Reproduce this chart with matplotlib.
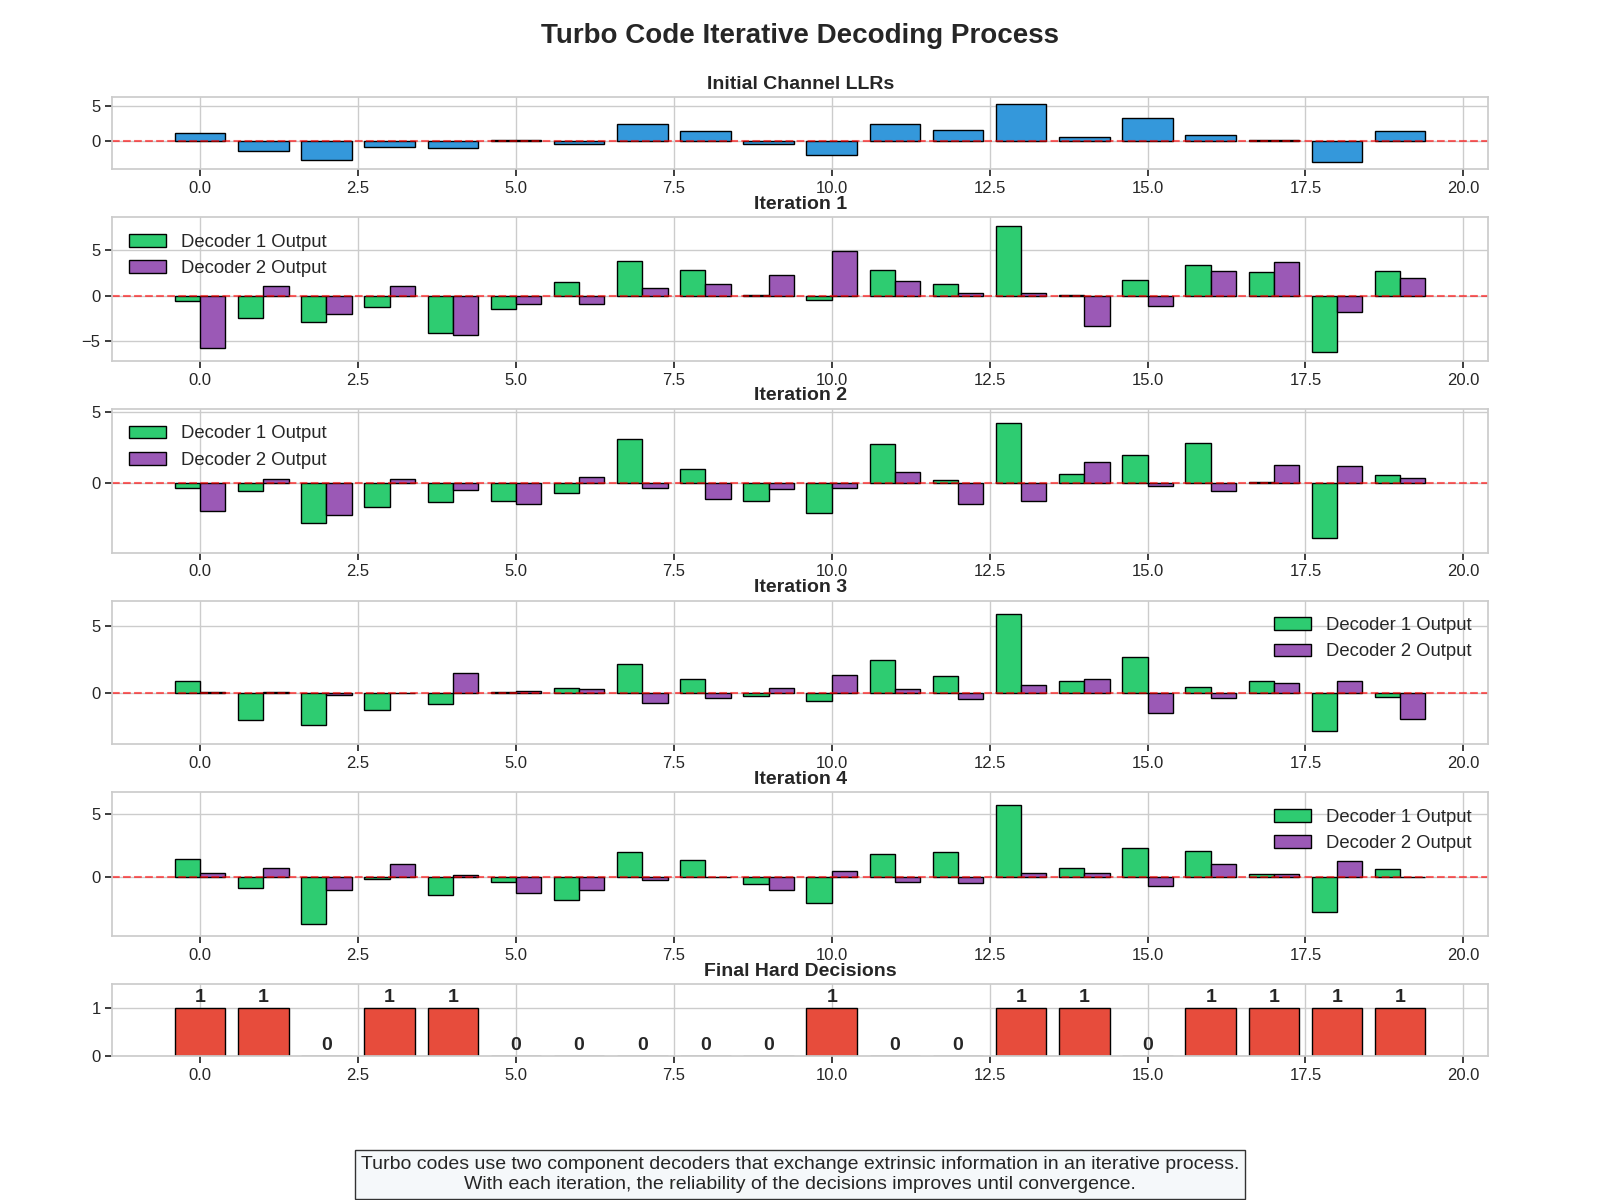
import numpy as np
import matplotlib
matplotlib.use('Agg')
import matplotlib.pyplot as plt

# data
positions = np.arange(20)
llr = [1.2, -1.5, -2.8, -0.8, -0.95, 0.15, -0.38, 2.48, 1.43, -0.38,
       -1.95, 2.43, 1.57, 5.29, 0.52, 3.24, 0.86, 0.15, -3.05, 1.43]

dec1_iter1 = [-0.58, -2.45, -2.88, -1.24, -4.09, -1.46, 1.53, 3.80, 2.81, 0.05,
              -0.45, 2.81, 1.28, 7.66, 0.05, 1.72, 3.36, 2.59, -6.17, 2.70]
dec2_iter1 = [-5.73, 1.06, -2.00, 1.06, -4.34, -0.91, -0.91, 0.84, 1.28, 2.26,
              4.89, 1.60, 0.29, 0.29, -3.32, -1.13, 2.70, 3.69, -1.79, 1.93]

dec1_iter2 = [-0.30, -0.53, -2.79, -1.61, -1.29, -1.20, -0.65, 3.09, 1.01, -1.20,
              -2.03, 2.74, 0.25, 4.19, 0.67, 1.98, 2.81, 0.07, -3.82, 0.60]
dec2_iter2 = [-1.91, 0.32, -2.17, 0.32, -0.44, -1.41, 0.46, -0.30, -1.06, -0.37,
              -0.30, 0.81, -1.41, -1.20, 1.50, -0.16, -0.51, 1.29, 1.22, 0.39]

dec1_iter3 = [0.95, -2.00, -2.38, -1.23, -0.78, 0.08, 0.43, 2.15, 1.10, -0.18,
              -0.55, 2.45, 1.28, 5.90, 0.95, 2.70, 0.50, 0.88, -2.80, -0.25]
dec2_iter3 = [0.12, 0.12, -0.10, 0.02, 1.48, 0.20, 0.33, -0.70, -0.33, 0.43,
              1.35, 0.35, -0.40, 0.65, 1.10, -1.45, -0.33, 0.80, 0.88, -1.90]

dec1_iter4 = [1.41, -0.90, -3.70, -0.19, -1.46, -0.43, -1.86, 1.97, 1.33, -0.59,
              -2.10, 1.81, 1.97, 5.72, 0.69, 2.29, 2.05, 0.21, -2.79, 0.61]
dec2_iter4 = [0.29, 0.69, -1.06, 1.01, 0.13, -1.30, -1.06, -0.27, -0.02, -1.06,
              0.45, -0.43, -0.51, 0.29, 0.29, -0.74, 1.01, 0.21, 1.25, -0.02]

decisions = [1, 1, 0, 1, 1, 0, 0, 0, 0, 0, 1, 0, 0, 1, 1, 0, 1, 1, 1, 1]

iterations = [(dec1_iter1, dec2_iter1), (dec1_iter2, dec2_iter2),
              (dec1_iter3, dec2_iter3), (dec1_iter4, dec2_iter4)]
legend_locs = ['upper left', 'upper left', 'upper right', 'upper right']

plt.rcParams['font.family'] = ['Liberation Sans', 'DejaVu Sans']
plt.rcParams['axes.edgecolor'] = '#cccccc'
plt.rcParams['axes.linewidth'] = 1.25
plt.rcParams['grid.color'] = '#cccccc'
plt.rcParams['grid.linewidth'] = 1.0
plt.rcParams['xtick.color'] = '#262626'
plt.rcParams['ytick.color'] = '#262626'
plt.rcParams['xtick.labelsize'] = 12
plt.rcParams['ytick.labelsize'] = 12
plt.rcParams['text.color'] = '#262626'

fig = plt.figure(figsize=(16, 12), dpi=100)
gs = fig.add_gridspec(6, 1, height_ratios=[1, 2, 2, 2, 2, 1],
                      left=0.0702, right=0.930, top=0.919, bottom=0.12, hspace=0.4)
axes = [fig.add_subplot(gs[i]) for i in range(6)]

def style_ax(ax):
    ax.grid(True)
    ax.set_axisbelow(True)
    ax.tick_params(length=5, width=1.25)

# initial LLRs
ax = axes[0]
ax.bar(positions, llr, width=0.8, color='#3498db', edgecolor='black', linewidth=1)
ax.axhline(0, color='red', linestyle='--', alpha=0.6, linewidth=1.5)
ax.set_ylim(min(llr) - 1, max(llr) + 1)
ax.set_title('Initial Channel LLRs', fontsize=14, fontweight='bold')
style_ax(ax)

# decoder iterations
for k, (d1, d2) in enumerate(iterations):
    ax = axes[k + 1]
    ax.bar(positions - 0.2, d1, width=0.4, color='#2ecc71', edgecolor='black',
           linewidth=1, label='Decoder 1 Output')
    ax.bar(positions + 0.2, d2, width=0.4, color='#9b59b6', edgecolor='black',
           linewidth=1, label='Decoder 2 Output')
    ax.axhline(0, color='red', linestyle='--', alpha=0.6, linewidth=1.5)
    lo = min(min(d1), min(d2))
    hi = max(max(d1), max(d2))
    ax.set_ylim(lo - 1, hi + 1)
    ax.set_title('Iteration %d' % (k + 1), fontsize=14, fontweight='bold')
    ax.legend(loc=legend_locs[k], fontsize=13.3, frameon=False)
    style_ax(ax)

# final decisions
ax = axes[5]
ax.bar(positions, decisions, width=0.8, color='#e74c3c', edgecolor='black', linewidth=1)
for i, v in enumerate(decisions):
    ax.text(i, v + 0.04, str(v), ha='center', va='bottom', fontsize=14, fontweight='bold')
ax.set_ylim(0, 1.5)
ax.set_yticks([0, 1])
ax.set_title('Final Hard Decisions', fontsize=14, fontweight='bold')
style_ax(ax)

fig.suptitle('Turbo Code Iterative Decoding Process', fontsize=20, fontweight='bold', y=0.981)

fig.text(0.5, 0.006,
         'Turbo codes use two component decoders that exchange extrinsic information in an iterative process.\n'
         'With each iteration, the reliability of the decisions improves until convergence.',
         ha='center', va='bottom', fontsize=14,
         bbox=dict(boxstyle='square,pad=0.3', facecolor='#f5f8fa', edgecolor='#333333'))

plt.savefig('out.png', dpi=100)
